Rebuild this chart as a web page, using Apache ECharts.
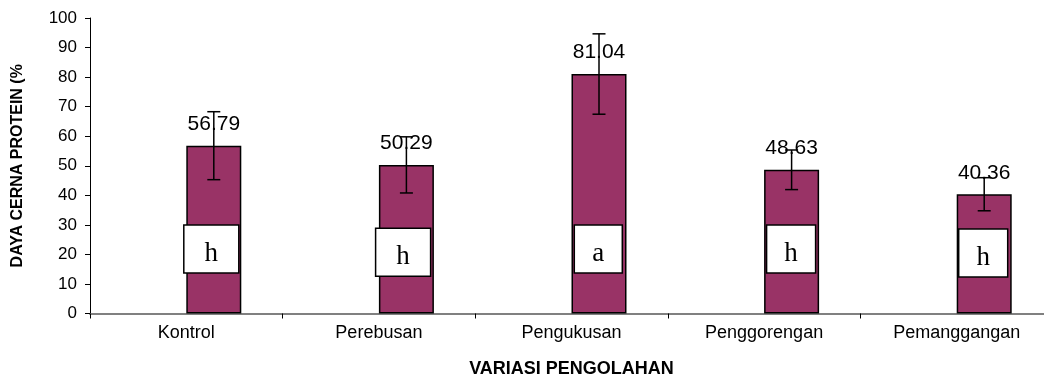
<!DOCTYPE html>
<html>
<head>
<meta charset="utf-8">
<script src="https://cdn.jsdelivr.net/npm/echarts@6/dist/echarts.min.js"></script>
<style>
  html, body { margin: 0; padding: 0; background: #fff; }
  #chart { width: 1044px; height: 379px; }
</style>
</head>
<body>
<div id="chart"></div>
<script>
// Processing methods and mean protein digestibility (%)
const categories = ['Kontrol', 'Perebusan', 'Pengukusan', 'Penggorengan', 'Pemanggangan'];
const digestibility = [56.79, 50.29, 81.04, 48.63, 40.36];
// Standard deviation shown as error bars
const stdDev = [11.5, 9.5, 13.6, 6.7, 5.6];
// Significance group letters
const groupLetters = ['h', 'h', 'a', 'h', 'h'];
// Value axis range
const yMin = 0;
const yMax = 100;
const yStep = 10;

// Drawing styles
const BAR_W = 55;
const BAR_COLOR = '#993366';
const SANS = 'Liberation Sans, Arial, sans-serif';
// Letter box placement (offset from bar centre, width, centre on value scale)
const letterBoxLayout = [
  { dx: -2.5, w: 55, cy: 21.8 },
  { dx: -3.3, w: 55, cy: 20.7 },
  { dx: -0.7, w: 48, cy: 21.8 },
  { dx: -0.5, w: 49, cy: 21.8 },
  { dx: -1.0, w: 49, cy: 20.5 }
];
const BOX_H = 48;

const chart = echarts.init(document.getElementById('chart'), null, { renderer: 'canvas' });

const option = {
  backgroundColor: '#ffffff',
  animation: false,
  grid: {
    left: 90,
    top: 18,
    width: 963,
    height: 295.5,
    containLabel: false,
    outerBoundsMode: 'none'
  },
  xAxis: {
    type: 'category',
    data: categories,
    name: 'VARIASI PENGOLAHAN',
    nameLocation: 'middle',
    nameGap: 47,
    nameTextStyle: { fontFamily: SANS, fontSize: 18, fontWeight: 'bold', color: '#000' },
    axisLine: { lineStyle: { color: '#808080', width: 2 } },
    axisTick: { show: true, alignWithLabel: false, length: 5, lineStyle: { color: '#000', width: 1 } },
    axisLabel: { fontFamily: SANS, fontSize: 18, color: '#000', margin: 11, interval: 0 },
    splitLine: { show: false }
  },
  yAxis: {
    type: 'value',
    min: yMin,
    max: yMax,
    interval: yStep,
    name: 'DAYA CERNA PROTEIN (%',
    nameLocation: 'middle',
    nameRotate: 90,
    nameGap: 64,
    nameTextStyle: { fontFamily: SANS, fontSize: 16, fontWeight: 'bold', color: '#000' },
    axisLine: { show: true, lineStyle: { color: '#000', width: 1 } },
    axisTick: { show: true, length: 5, lineStyle: { color: '#000', width: 1 } },
    axisLabel: { fontFamily: SANS, fontSize: 17, color: '#000', margin: 13 },
    splitLine: { show: false }
  },
  series: [
    {
      // empty companion slot in each category cluster
      name: 'spacer',
      type: 'bar',
      barWidth: BAR_W,
      barGap: '0%',
      data: categories.map(() => '-'),
      silent: true
    },
    {
      name: 'Daya cerna protein',
      type: 'bar',
      barWidth: BAR_W,
      barGap: '0%',
      data: digestibility,
      itemStyle: { color: BAR_COLOR, borderColor: '#000', borderWidth: 1.5 },
      label: {
        show: true,
        position: 'top',
        distance: 11,
        fontFamily: SANS,
        fontSize: 21,
        color: '#000',
        formatter: p => p.value.toFixed(2)
      },
      z: 2
    },
    {
      // error bars
      name: 'SD',
      type: 'custom',
      data: digestibility.map((v, i) => [i, v, stdDev[i]]),
      encode: { x: 0, y: 1 },
      z: 5,
      renderItem: function (params, api) {
        const i = api.value(0);
        const v = api.value(1);
        const sd = api.value(2);
        const hi = api.coord([i, v + sd]);
        const lo = api.coord([i, v - sd]);
        const x = hi[0] + BAR_W / 2;
        const cap = 6.5;
        const st = { stroke: '#000', lineWidth: 1.5 };
        return {
          type: 'group',
          children: [
            { type: 'line', shape: { x1: x, y1: hi[1], x2: x, y2: lo[1] }, style: st },
            { type: 'line', shape: { x1: x - cap, y1: hi[1], x2: x + cap, y2: hi[1] }, style: st },
            { type: 'line', shape: { x1: x - cap, y1: lo[1], x2: x + cap, y2: lo[1] }, style: st }
          ]
        };
      }
    },
    {
      // significance letter boxes
      name: 'Notasi',
      type: 'custom',
      data: groupLetters.map((g, i) => [i, letterBoxLayout[i].cy, g]),
      encode: { x: 0, y: 1 },
      z: 4,
      renderItem: function (params, api) {
        const i = api.value(0);
        const lay = letterBoxLayout[i];
        const c = api.coord([i, lay.cy]);
        const cx = c[0] + BAR_W / 2 + lay.dx;
        const cy = c[1];
        return {
          type: 'group',
          children: [
            {
              type: 'rect',
              shape: { x: cx - lay.w / 2, y: cy - BOX_H / 2, width: lay.w, height: BOX_H },
              style: { fill: '#fff', stroke: '#000', lineWidth: 1.5 }
            },
            {
              type: 'text',
              x: cx,
              y: cy + 5,
              style: {
                text: groupLetters[i],
                fontFamily: 'Liberation Serif, Times New Roman, serif',
                fontSize: 27,
                fill: '#000',
                align: 'center',
                verticalAlign: 'middle'
              }
            }
          ]
        };
      }
    }
  ]
};

chart.setOption(option);
</script>
</body>
</html>
